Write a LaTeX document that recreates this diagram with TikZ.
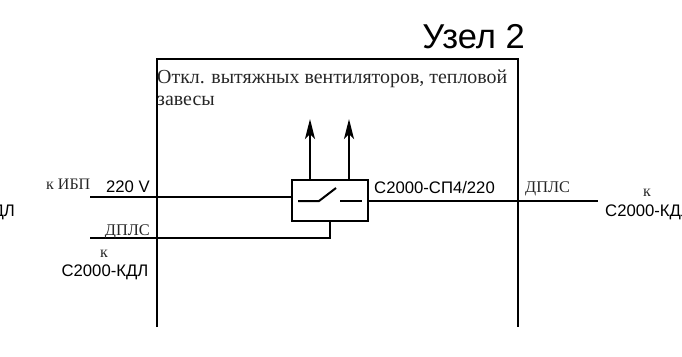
\documentclass[tikz,border=0pt]{standalone}
\usepackage{fontspec}
\setmainfont{Liberation Serif}
\newfontfamily\arialf{Liberation Sans}
\usetikzlibrary{arrows.meta}
\tikzset{
  wire/.style={line width=2pt,draw=black},
  serif/.style={inner sep=0pt,font=\fontsize{16}{18}\selectfont,text=black!85},
  sans/.style={inner sep=0pt,font=\arialf\fontsize{16.7}{19}\selectfont,text=black},
  arr/.style={line width=2.4pt,-{Stealth[length=20pt,width=10pt,inset=5pt]}},
}
\begin{document}
\begin{tikzpicture}[x=1pt,y=-1pt]
\useasboundingbox (0,0) rectangle (682,356);
\clip (0,0) rectangle (682,356);
% enclosure
\coordinate (bl) at (157,327);
\coordinate (tl) at (157,59);
\coordinate (tr) at (518,59);
\coordinate (br) at (518,327);
\draw[wire,line cap=butt] (bl) -- (tl) -- (tr) -- (br);
% relay box
\node[wire,draw,minimum width=76pt,minimum height=41pt,inner sep=0pt,anchor=north west,outer sep=0pt] (relay) at (292,180) {};
% wires
\coordinate (ibp) at (90,197);
\coordinate (dl) at (90,238);
\coordinate (dr) at (598,201);
\coordinate (a1) at (310,119);
\coordinate (a2) at (349,119);
\coordinate (a1b) at (310,180);
\coordinate (a2b) at (349,180);
\draw[wire] (ibp) -- (ibp -| relay.west);
\draw[wire] (dl) -| (330,221);
\draw[wire] (relay.east |- dr) -- (dr);
\draw[arr] (a1b) -- (a1);
\draw[arr] (a2b) -- (a2);
% switch
\coordinate (s1) at (298,201);
\coordinate (s2) at (319,201);
\coordinate (s3) at (336,188);
\coordinate (s4) at (340,201);
\coordinate (s5) at (362,201);
\draw[wire] (s1) -- (s2) -- (s3);
\draw[wire] (s4) -- (s5);
% texts
\node[inner sep=0pt,anchor=base east,font=\arialf\fontsize{34.5}{38}\selectfont] (title) at (525,48) {Узел 2};
\node[serif,anchor=base west,font=\fontsize{19.9}{22}\selectfont] (t1) at (157,83) {Откл. вытяжных вентиляторов, тепловой};
\node[serif,anchor=base west,font=\fontsize{19.9}{22}\selectfont] (t2) at (157,105) {завесы};
\node[serif,anchor=base west] (kibp) at (46,189) {к ИБП};
\node[sans,anchor=base east] (v220) at (150,192) {220 V};
\node[serif,anchor=base east,font=\fontsize{16.3}{18}\selectfont] (dpl) at (150,235) {ДПЛС};
\node[serif,anchor=base] (kl) at (104,257) {к};
\node[sans,anchor=base] (kdl) at (105,276) {С2000-КДЛ};
\node[sans,anchor=base east] (kdlcut) at (15,216) {С2000-КДЛ};
\node[sans,anchor=base west] (sp) at (374,193) {С2000-СП4/220};
\node[serif,anchor=base west,font=\fontsize{16.3}{18}\selectfont] (dpr) at (525,192) {ДПЛС};
\node[serif,anchor=base] (kr) at (647,196) {к};
\node[sans,anchor=base west] (kdr) at (605,216) {С2000-КДЛ};
\end{tikzpicture}
\end{document}
